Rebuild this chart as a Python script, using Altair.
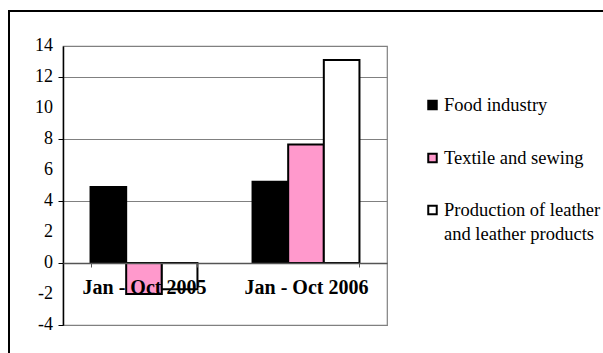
import altair as alt
import pandas as pd

categories = ["Jan - Oct 2005", "Jan - Oct 2006"]
series = ["Food industry", "Textile and sewing", "Production of leather\nand leather products"]
food = [4.9, 5.25]
textile = [-2.0, 7.65]
leather = [-1.7, 13.1]
colors = ["#000000", "#FF99CC", "#FFFFFF"]
y_ticks = [-4, -2, 0, 2, 4, 6, 8, 10, 12, 14]

rows = []
for i, c in enumerate(categories):
    for s, vals in zip(series, [food, textile, leather]):
        rows.append({"period": c, "series": s, "value": vals[i]})
df = pd.DataFrame(rows)
ticks_df = pd.DataFrame({"v": y_ticks, "label": [str(t) for t in y_ticks]})

FONT = "Liberation Serif"
W, H = 324, 279

frame = alt.Chart(pd.DataFrame({"a": [0]})).mark_rect(
    fill=None, stroke="#000000", strokeWidth=2, clip=False
).encode(
    x=alt.value(-54), x2=alt.value(560), y=alt.value(-35), y2=alt.value(330)
)

yscale = alt.Scale(domain=[-4, 14], nice=False)

bars = alt.Chart(df).mark_bar(stroke="#000000", strokeWidth=2, clip=False).encode(
    x=alt.X("period:N", sort=categories,
            scale=alt.Scale(paddingInner=0.34, paddingOuter=0.17),
            axis=alt.Axis(title=None, orient="bottom", offset=-62, labelAngle=0,
                          labelFont=FONT, labelFontSize=20, labelFontWeight="bold",
                          labelColor="#000000", labelPadding=10,
                          domainColor="#555555", domainWidth=1.5,
                          tickColor="#555555", tickSize=4, tickBand="extent",
                          zindex=1)),
    xOffset=alt.XOffset("series:N", sort=series, scale=alt.Scale(paddingInner=0, paddingOuter=0)),
    y=alt.Y("value:Q", scale=yscale,
            axis=alt.Axis(title=None, values=y_ticks, labels=False,
                          domainColor="#000000", domainWidth=1.5,
                          tickColor="#000000", tickSize=5,
                          grid=True, gridColor="#808080", gridWidth=1.2)),
    fill=alt.Fill("series:N", sort=series,
                  scale=alt.Scale(domain=series, range=colors), legend=None),
)

ylabels = alt.Chart(ticks_df).mark_text(
    font=FONT, fontSize=18, align="right", baseline="middle", color="#000000", clip=False
).encode(
    y=alt.Y("v:Q", scale=yscale), text="label:N", x=alt.value(-10)
)

legend_layers = []
row_centers = [59, 112, 164]
for i, s in enumerate(series):
    legend_layers.append(
        alt.Chart(pd.DataFrame({"a": [0]})).mark_square(
            size=72, fill=colors[i], stroke="#000000", strokeWidth=2, opacity=1, clip=False
        ).encode(x=alt.value(369.5), y=alt.value(row_centers[i]))
    )
    legend_layers.append(
        alt.Chart(pd.DataFrame({"a": [0]})).mark_text(
            font=FONT, fontSize=18.5, align="left", baseline="top", color="#000000",
            lineBreak="\n", lineHeight=23.5, clip=False
        ).encode(x=alt.value(381), y=alt.value(row_centers[i] - 9), text=alt.value(s))
    )

chart = alt.layer(frame, bars, ylabels, *legend_layers).properties(
    width=W, height=H,
    autosize=alt.AutoSizeParams(type="none"),
    padding={"left": 63, "top": 46, "right": 216, "bottom": 28},
    background="#FFFFFF",
).configure_view(stroke="#808080", strokeWidth=1.2)

chart.save("out.html", embed_options={"renderer": "svg", "actions": False})
